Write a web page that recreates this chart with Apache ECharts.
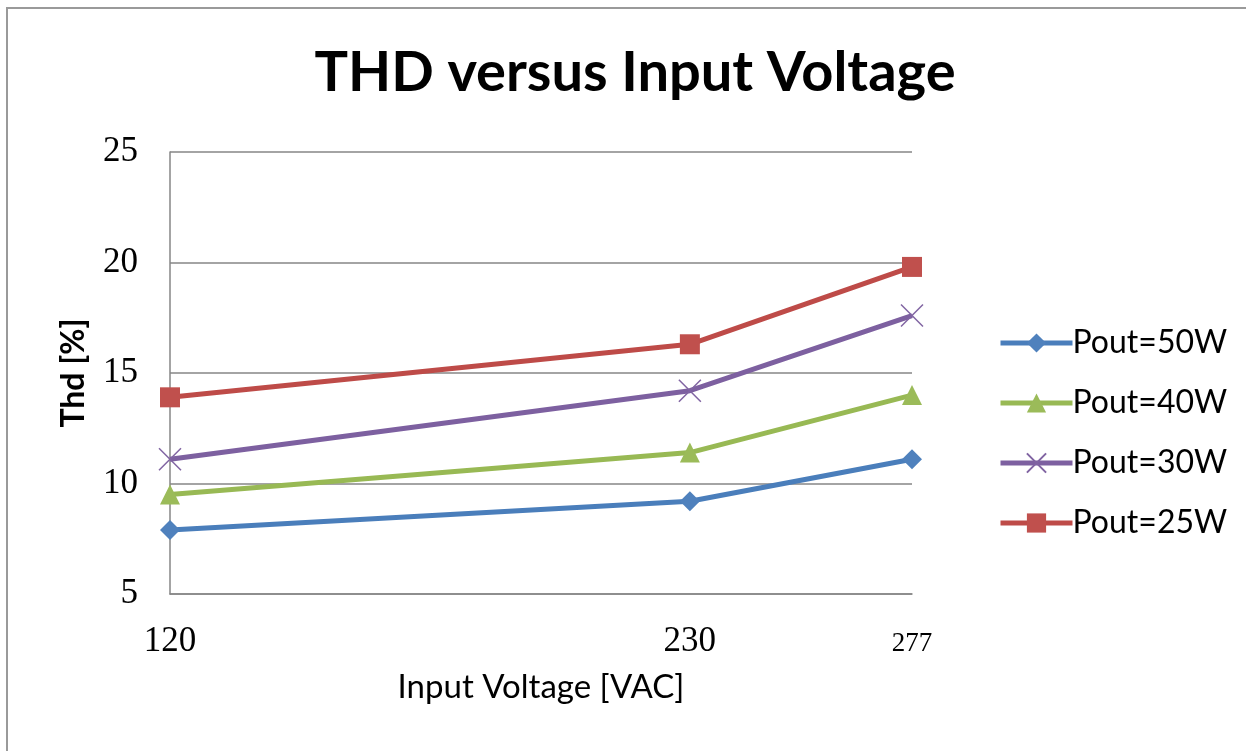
<!DOCTYPE html>
<html>
<head>
<meta charset="utf-8" />
<script src="https://cdn.jsdelivr.net/npm/echarts@6/dist/echarts.min.js"></script>
<style>
  html, body { margin: 0; padding: 0; background: #fff; }
  #chart { width: 1246px; height: 751px; }
</style>
</head>
<body>
<div id="chart"></div>
<script>
// input voltage (x) and THD values per output power
const voltages = [120, 230, 277]
const seriesNames = ['Pout=50W', 'Pout=40W', 'Pout=30W', 'Pout=25W']
const thd50 = [7.9, 9.2, 11.1]
const thd40 = [9.5, 11.4, 14.0]
const thd30 = [11.1, 14.2, 17.6]
const thd25 = [13.9, 16.3, 19.8]

const lineColors = ['#4A7EBB', '#98B954', '#7D60A0', '#BE4B48']
const markColors = ['#4F81BD', '#9BBB59', '#8064A2', '#C0504D']
const symbols = ['diamond', 'triangle', 'path://M0,0L10,10M10,0L0,10', 'rect']
const symbolSizes = [20, 20, 22, 20]

const sansFont = 'Lato, "Open Sans", sans-serif'
const serifFont = '"Liberation Serif", serif'

const chart = echarts.init(document.getElementById('chart'))

const makeSeries = (name, values, i) => ({
  name,
  type: 'line',
  data: values.map((v, k) => [voltages[k], v]),
  symbol: symbols[i],
  symbolSize: symbolSizes[i],
  lineStyle: { color: lineColors[i], width: 5 },
  itemStyle: i === 2
    ? { color: markColors[i], borderColor: markColors[i], borderWidth: 1.5 }
    : { color: markColors[i], borderWidth: 0 },
  emphasis: { disabled: true },
  z: 2 + i,
})

chart.setOption({
  animation: false,
  title: {
    text: 'THD versus Input Voltage',
    left: 630,
    textAlign: 'center',
    top: 40,
    textStyle: { fontFamily: sansFont, fontWeight: 'bold', fontSize: 56, color: '#000' },
  },
  graphic: [
    // outer chart frame (only left and top edges are visible)
    { type: 'line', shape: { x1: 7, y1: 7, x2: 7, y2: 751 }, style: { stroke: '#9a9a9a', lineWidth: 2 } },
    { type: 'line', shape: { x1: 7, y1: 8, x2: 1246, y2: 8 }, style: { stroke: '#9a9a9a', lineWidth: 2 } },
  ],
  legend: {
    orient: 'vertical',
    left: 993,
    top: 321,
    itemWidth: 72,
    itemHeight: 24,
    itemGap: 26,
    data: seriesNames,
    lineStyle: { width: 5 },
    textStyle: { fontFamily: sansFont, fontSize: 32, color: '#000', lineHeight: 34, padding: [0, 0, 0, -5] },
  },
  grid: { left: 170, right: 334, top: 152, bottom: 157 },
  xAxis: {
    type: 'value',
    min: 120,
    max: 277,
    name: 'Input Voltage [VAC]',
    nameLocation: 'middle',
    nameGap: 77,
    nameTextStyle: { fontFamily: sansFont, fontSize: 33, color: '#000' },
    axisLine: { show: true, lineStyle: { color: '#868686', width: 1.5 } },
    axisTick: { show: false },
    splitLine: { show: false },
    axisLabel: {
      customValues: voltages,
      margin: 30,
      fontFamily: serifFont,
      fontSize: 35,
      color: '#000',
      formatter: v => (v === 277 ? '{s|' + v + '}' : String(v)),
      rich: { s: { fontFamily: serifFont, fontSize: 27, color: '#000', padding: [6, 0, 0, 0] } },
    },
  },
  yAxis: {
    type: 'value',
    min: 5,
    max: 25,
    interval: 5,
    name: 'Thd [%]',
    nameLocation: 'middle',
    nameRotate: 90,
    nameGap: 80,
    nameTextStyle: { fontFamily: sansFont, fontWeight: 'bold', fontSize: 32, color: '#000' },
    axisLine: { show: true, lineStyle: { color: '#868686', width: 1.5 } },
    axisTick: { show: false },
    splitLine: { lineStyle: { color: '#868686', width: 1.5 } },
    axisLabel: { margin: 32, fontFamily: serifFont, fontSize: 35, color: '#000' },
  },
  series: [thd50, thd40, thd30, thd25].map((vals, i) => makeSeries(seriesNames[i], vals, i)),
})
</script>
</body>
</html>
